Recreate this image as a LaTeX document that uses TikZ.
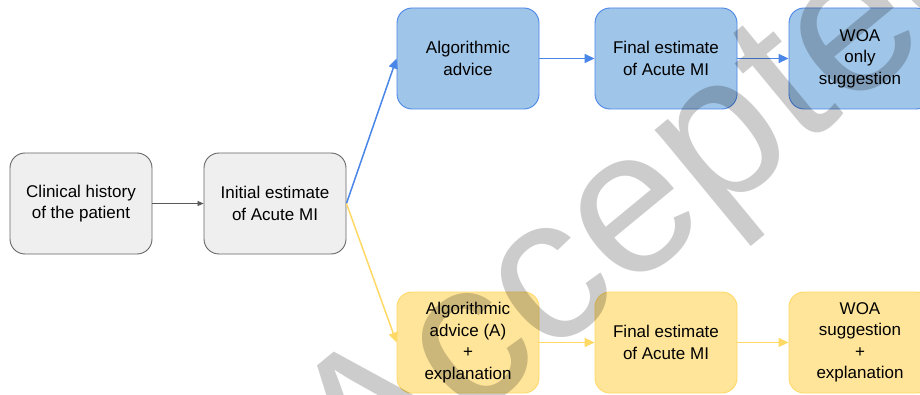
\documentclass[tikz,border=0pt]{standalone}
\usepackage{fontspec}
\setmainfont{Liberation Sans}
\usetikzlibrary{arrows.meta}
\definecolor{grayfill}{HTML}{EFEFEF}
\definecolor{grayline}{HTML}{666666}
\definecolor{grayarrow}{HTML}{595959}
\definecolor{bluefill}{HTML}{9FC5E8}
\definecolor{blueline}{HTML}{4A86E8}
\definecolor{yellowfill}{HTML}{FFE599}
\definecolor{yellowline}{HTML}{FFD966}
\tikzset{
  box/.style={rectangle, rounded corners=15pt, minimum width=142pt, minimum height=101pt,
    inner sep=2pt, align=center, font=\fontsize{17}{21.5}\selectfont, line width=0.9pt},
  graybox/.style={box, fill=grayfill, draw=grayline},
  bluebox/.style={box, fill=bluefill, draw=blueline},
  yellowbox/.style={box, fill=yellowfill, draw=yellowline},
  grayarr/.style={draw=grayarrow, line width=0.8pt, -{Triangle[length=6pt,width=5pt]}},
  bluearr/.style={draw=blueline, line width=1.5pt, -{Triangle[length=10pt,width=9pt]}},
  yellowarr/.style={draw=yellowline, line width=1.5pt, -{Triangle[length=10pt,width=9pt]}},
}
\begin{document}
\begin{tikzpicture}[x=1pt,y=1pt]
\useasboundingbox (0,0) rectangle (920,-395);
\clip (0,0) rectangle (920,-395);
\fill[white] (0,0) rectangle (920,-395);
\node[graybox] (hist) at (81,-203.5) {Clinical history\\of the patient};
\node[graybox] (init) at (275,-203.5) {Initial estimate\\of Acute MI};
\node[bluebox] (advB) at (468,-58.5) {Algorithmic\\advice};
\node[bluebox] (finB) at (666,-58.5) {Final estimate\\of Acute MI};
\node[bluebox] (woaB) at (860,-58.5) {WOA\\only\\suggestion};
\node[yellowbox] (advY) at (468,-342.5) {Algorithmic\\advice (A)\\+\\explanation};
\node[yellowbox] (finY) at (666,-342.5) {Final estimate\\of Acute MI};
\node[yellowbox] (woaY) at (860,-342.5) {WOA\\suggestion\\+\\explanation};
\draw[grayarr] (hist) -- (init);
\draw[bluearr] (init.east) -- (advB.west);
\draw[yellowarr] (init.east) -- (advY.west);
\draw[bluearr] (advB) -- (finB);
\draw[bluearr] (finB) -- (woaB);
\draw[yellowarr] (advY) -- (finY);
\draw[yellowarr] (finY) -- (woaY);
\node[rotate=39.5, anchor=base west, inner sep=0pt, text=black, text opacity=0.2,
  font=\fontsize{205}{205}\selectfont] (wm) at (362,-512) {Accepted};
\end{tikzpicture}
\end{document}
